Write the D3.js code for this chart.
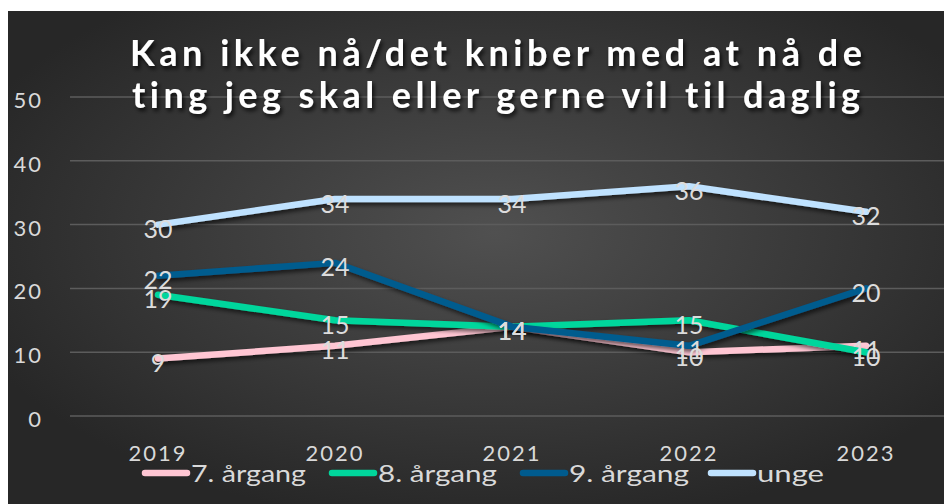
<meta charset="utf-8">
<title>Kan ikke nå</title>
<script src="https://cdn.jsdelivr.net/npm/d3@7"></script>
<style>
  body { margin: 0; background: #fff; }
  svg { display: block; font-family: Lato, "DejaVu Sans", sans-serif; font-variant-ligatures: none; }
</style>
<body>
<svg width="944" height="504"></svg>
<script>
  const years = ['2019', '2020', '2021', '2022', '2023']
  const yTicks = [0, 10, 20, 30, 40, 50]
  const seriesNames = ['7. årgang', '8. årgang', '9. årgang', 'unge']
  const seriesColors = ['#ffc6d3', '#00d69c', '#005b8e', '#bfe2ff']
  const v7 = [9, 11, 14, 10, 11]
  const v8 = [19, 15, 14, 15, 10]
  const v9 = [22, 24, 14, 11, 20]
  const vUnge = [30, 34, 34, 36, 32]
  const titleLines = ['Kan ikke nå/det kniber med at nå de', 'ting jeg skal eller gerne vil til daglig']

  const series = seriesNames.map((name, i) => ({
    name, color: seriesColors[i], values: [v7, v8, v9, vUnge][i]
  }))

  const svg = d3.select('svg')
  const defs = svg.append('defs')

  const grad = defs.append('radialGradient')
    .attr('id', 'bg').attr('cx', '52%').attr('cy', '45%').attr('r', '60%')
  grad.append('stop').attr('offset', '0%').attr('stop-color', '#505050')
  grad.append('stop').attr('offset', '100%').attr('stop-color', '#272727')

  const shadow = defs.append('filter').attr('id', 'shadow')
    .attr('x', '-10%').attr('y', '-30%').attr('width', '120%').attr('height', '160%')
  shadow.append('feDropShadow').attr('dx', 2).attr('dy', 3).attr('stdDeviation', 2)
    .attr('flood-color', '#000').attr('flood-opacity', 0.6)

  const tshadow = defs.append('filter').attr('id', 'tshadow')
    .attr('x', '-5%').attr('y', '-30%').attr('width', '110%').attr('height', '160%')
  tshadow.append('feDropShadow').attr('dx', 2).attr('dy', 3).attr('stdDeviation', 2)
    .attr('flood-color', '#000').attr('flood-opacity', 0.8)

  svg.append('rect')
    .attr('x', 8).attr('y', 11).attr('width', 936).attr('height', 493)
    .attr('fill', 'url(#bg)')

  const x = d3.scalePoint().domain(years).range([158, 866])
  const y = d3.scaleLinear().domain([0, 50]).range([416, 97])

  // gridlines
  svg.append('g')
    .selectAll('line').data(yTicks).join('line')
    .attr('x1', 70).attr('x2', 944)
    .attr('y1', d => y(d)).attr('y2', d => y(d))
    .attr('stroke', '#5c5c5c').attr('stroke-width', 1.5)

  // y tick labels
  svg.append('g')
    .selectAll('text').data(yTicks).join('text')
    .attr('x', 43).attr('y', d => y(d))
    .attr('dy', 11)
    .attr('text-anchor', 'end')
    .attr('fill', '#d9d9d9').attr('font-size', 22)
    .attr('letter-spacing', 2)
    .text(d => d)

  // x labels
  svg.append('g')
    .selectAll('text').data(years).join('text')
    .attr('x', d => x(d)).attr('y', 461)
    .attr('text-anchor', 'middle')
    .attr('fill', '#d9d9d9').attr('font-size', 22)
    .attr('letter-spacing', 2)
    .text(d => d)

  const line = d3.line()
    .x((d, i) => x(years[i]))
    .y(d => y(d))

  svg.append('g')
    .selectAll('path').data(series).join('path')
    .attr('d', d => line(d.values))
    .attr('fill', 'none')
    .attr('stroke', d => d.color)
    .attr('stroke-width', 6.5)
    .attr('stroke-linejoin', 'round')
    .attr('stroke-linecap', 'round')
    .attr('filter', 'url(#shadow)')

  // data labels
  series.forEach(s => {
    svg.append('g')
      .selectAll('text').data(s.values).join('text')
      .attr('x', (d, i) => x(years[i]))
      .attr('y', d => y(d))
      .attr('dy', 13.5)
      .attr('text-anchor', 'middle')
      .attr('fill', '#dcdcdc').attr('font-size', 25)
      .text(d => d)
  })

  // legend
  const legendX = [142, 329, 520, 708]
  const legendW = [115, 119, 120, 67]
  const legend = svg.append('g')
    .selectAll('g').data(series).join('g')
    .attr('transform', (d, i) => `translate(${legendX[i]},473)`)
  legend.append('line')
    .attr('x1', 3).attr('x2', 45)
    .attr('stroke', d => d.color).attr('stroke-width', 6.5)
    .attr('stroke-linecap', 'round')
  legend.append('text')
    .attr('x', 49).attr('dy', 9)
    .attr('fill', '#d9d9d9').attr('font-size', 23)
    .attr('textLength', (d, i) => legendW[i])
    .attr('lengthAdjust', 'spacingAndGlyphs')
    .text(d => d.name)

  // title
  svg.append('text')
    .attr('x', 496).attr('y', 66)
    .attr('text-anchor', 'middle')
    .attr('fill', '#fff').attr('font-size', 36).attr('font-weight', 'bold')
    .attr('filter', 'url(#tshadow)')
    .selectAll('tspan').data(titleLines).join('tspan')
    .attr('x', 496).attr('dy', (d, i) => i ? 42 : 0)
    .attr('textLength', (d, i) => [732, 728][i])
    .attr('lengthAdjust', 'spacing')
    .text(d => d)
</script>
</body>
